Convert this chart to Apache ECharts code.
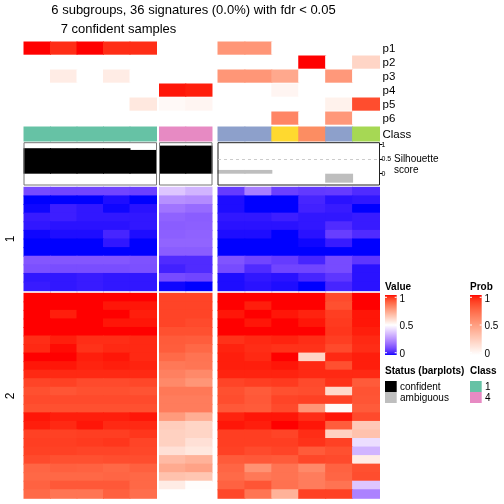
<!DOCTYPE html>
<html><head><meta charset="utf-8">
<script src="https://cdn.jsdelivr.net/npm/echarts@6/dist/echarts.min.js"></script>
<style>html,body{margin:0;padding:0;background:#fff}#c{width:504px;height:504px}</style>
</head><body><div id="c"></div>
<script>
// ---------------- DATA ----------------
const titleLine1 = "6 subgroups, 36 signatures (0.0%) with fdr < 0.05";
const titleLine2 = "7 confident samples";
const groupSizes = [5, 2, 6];
const sampleClass = [1,1,1,1,1, 4,4, 3,3,6,2,3,5];
const silhouette  = [0.88,0.88,0.88,0.88,0.82, 0.97,0.97, 0.13,0.13,0,0,-0.31,0];
const confident   = [1,1,1,1,1, 1,1, 0,0,0,0,0,0];
const probLabels = ["p1","p2","p3","p4","p5","p6"];
const probP1 = [1,0.94,1,0.94,0.94, 0,0, 0.54,0.54,0,0,0,0];
const probP2 = [0,0,0,0,0, 0,0, 0,0,0,1,0,0.22];
const probP3 = [0,0.1,0,0.1,0, 0,0, 0.54,0.54,0.45,0,0.53,0];
const probP4 = [0,0,0,0,0, 0.98,0.97, 0,0,0.05,0,0,0];
const probP5 = [0,0,0,0,0.12, 0.03,0.05, 0,0,0,0,0.07,0.85];
const probP6 = [0,0,0,0,0, 0,0, 0,0,0.62,0,0.53,0];
const rowClusterLabels = ["1","2"];
const cluster1Values = [
 [0.11,0.10,0.10,0.10,0.09, 0.38,0.34, 0.08,0.22,0.09,0.075,0.08,0.05],
 [0,0,0,0.01,0, 0.26,0.25, 0.01,0,0,0.04,0.015,0.02],
 [0.005,0.03,0.02,0.005,0.015, 0.2,0.18, 0.01,0,0,0.035,0.025,0],
 [0.025,0.03,0.02,0.02,0.02, 0.16,0.15, 0.02,0.02,0.03,0.02,0.02,0.025],
 [0.02,0.015,0.015,0.015,0.02, 0.15,0.155, 0.015,0.015,0.015,0.02,0.05,0.025],
 [0.005,0.01,0.01,0.04,0.01, 0.155,0.16, 0.01,0.01,0,0.015,0.085,0.05],
 [0,0,0,0.02,0, 0.165,0.165, 0,0,0,0.005,0.025,0],
 [0,0,0,0,0, 0.15,0.15, 0,0,0,0,0,0],
 [0.135,0.135,0.135,0.135,0.125, 0.05,0.05, 0.13,0.1,0.08,0.04,0.11,0.07],
 [0.12,0.115,0.115,0.115,0.12, 0.035,0.05, 0.11,0.05,0.1,0.1,0.11,0.015],
 [0.02,0.02,0.025,0.02,0.02, 0.11,0.1, 0.01,0.02,0.015,0.04,0.07,0.015],
 [0.025,0.02,0.025,0.02,0.02, 0.005,0, 0.01,0.015,0.01,0,0.04,0.015]
];
const cluster2Values = [
 [1,1,1,1,1, 0.94,0.94, 1,1,1,1,0.93,1],
 [1,1,1,0.99,0.99, 0.94,0.94, 1,0.985,1,1,0.92,1],
 [1,0.985,1,1,0.985, 0.94,0.94, 0.99,1,0.99,0.98,0.95,0.99],
 [1,1,1,0.99,0.99, 0.94,0.93, 1,0.99,1,0.99,0.955,0.99],
 [1,1,1,1,1, 0.92,0.92, 1,1,1,1,0.96,0.985],
 [0.97,0.985,0.97,0.97,0.975, 0.9,0.895, 0.965,0.975,0.98,0.97,0.95,0.975],
 [0.975,0.995,0.965,0.975,0.975, 0.895,0.875, 0.98,0.97,0.965,0.965,0.93,0.97],
 [1,1,0.985,0.99,0.975, 0.87,0.85, 0.985,0.975,1,0.61,0.975,0.985],
 [0.99,0.99,0.98,0.985,0.98, 0.84,0.845, 0.985,0.985,0.99,0.975,0.92,0.985],
 [0.975,0.975,0.975,0.975,0.975, 0.82,0.8, 0.98,0.98,0.98,0.975,0.975,0.975],
 [0.94,0.945,0.93,0.93,0.935, 0.8,0.77, 0.94,0.95,0.955,0.93,0.965,0.9],
 [0.92,0.91,0.92,0.92,0.915, 0.84,0.84, 0.92,0.9,0.92,0.925,0.6,0.915],
 [0.93,0.93,0.93,0.93,0.93, 0.83,0.83, 0.925,0.905,0.94,0.945,0.945,0.91],
 [0.92,0.92,0.92,0.92,0.92, 0.83,0.83, 0.905,0.9,0.93,0.77,0.51,0.9],
 [0.99,0.985,0.985,0.985,0.99, 0.76,0.71, 0.98,0.99,0.99,0.97,0.99,0.93],
 [0.985,0.975,0.99,0.975,0.975, 0.63,0.61, 0.99,0.985,1,0.99,0.895,0.64],
 [0.945,0.945,0.95,0.95,0.96, 0.62,0.61, 0.95,0.95,0.94,0.97,0.62,0.66],
 [0.95,0.95,0.955,0.96,0.94, 0.62,0.58, 0.95,0.95,0.95,0.965,0.945,0.43],
 [0.945,0.945,0.94,0.94,0.935, 0.58,0.56, 0.945,0.93,0.94,0.9,0.92,0.34],
 [0.93,0.92,0.92,0.925,0.925, 0.68,0.7, 0.9,0.905,0.9,0.935,0.93,0.55],
 [0.88,0.89,0.885,0.875,0.89, 0.72,0.74, 0.88,0.78,0.85,0.8,0.885,0.92],
 [0.875,0.875,0.875,0.88,0.875, 0.66,0.65, 0.87,0.84,0.85,0.83,0.88,0.925],
 [0.885,0.905,0.905,0.905,0.875, 0.55,0.505, 0.885,0.91,0.855,0.83,0.85,0.38],
 [0.87,0.845,0.845,0.89,0.86, 0.5,0.5, 0.935,0.845,0.7,0.945,0.945,0.23]
];
const classColors = {1:"#66C2A5",2:"#FC8D62",3:"#8DA0CB",4:"#E78AC3",5:"#A6D854",6:"#FFD92F"};
const legendClasses = ["1","4"];
const statusLabels = ["confident","ambiguous"];
const valueTicks = ["1","0.5","0"];
const probTicks = ["1","0.5","0"];

// ---------------- COLOR (LAB interpolation like colorRamp2) ----------------
function toLin(c){c/=255;return c<=0.04045?c/12.92:Math.pow((c+0.055)/1.055,2.4);}
function toS(l){let c=l<=0.0031308?12.92*l:1.055*Math.pow(l,1/2.4)-0.055;return Math.round(Math.max(0,Math.min(1,c))*255);}
function hex2rgb(h){h=h.replace('#','');return [parseInt(h.slice(0,2),16),parseInt(h.slice(2,4),16),parseInt(h.slice(4,6),16)];}
function rgb2lab(c){const R=toLin(c[0]),G=toLin(c[1]),B=toLin(c[2]);
 const X=(0.4124*R+0.3576*G+0.1805*B)/0.95047,Y=0.2126*R+0.7152*G+0.0722*B,Z=(0.0193*R+0.1192*G+0.9505*B)/1.08883;
 const f=t=>t>0.008856?Math.cbrt(t):7.787*t+16/116;
 return [116*f(Y)-16,500*(f(X)-f(Y)),200*(f(Y)-f(Z))];}
function lab2hex(l){const fy=(l[0]+16)/116,fx=fy+l[1]/500,fz=fy-l[2]/200;
 const fi=t=>t>0.206893?t*t*t:(t-16/116)/7.787;
 const X=fi(fx)*0.95047,Y=fi(fy),Z=fi(fz)*1.08883;
 const R=3.2406*X-1.5372*Y-0.4986*Z,G=-0.9689*X+1.8758*Y+0.0415*Z,B=0.0557*X-0.2040*Y+1.0570*Z;
 return '#'+[toS(R),toS(G),toS(B)].map(v=>v.toString(16).padStart(2,'0')).join('');}
function ramp(stops,n){
 const out=[];const labs=stops.map(s=>[s[0],rgb2lab(hex2rgb(s[1]))]);
 for(let i=0;i<n;i++){const t=i/(n-1);let k=0;while(k<labs.length-2&&t>labs[k+1][0])k++;
  const a=labs[k],b=labs[k+1];const u=(t-a[0])/(b[0]-a[0]);
  out.push(lab2hex([0,1,2].map(j=>a[1][j]+(b[1][j]-a[1][j])*u)));}
 return out;}
const valueColors = ramp([[0,'#0000FF'],[0.5,'#FFFFFF'],[1,'#FF0000']],81);
const probColors = ramp([[0,'#FFFFFF'],[1,'#FF0000']],41);

// ---------------- LAYOUT ----------------
const FONT='"Liberation Sans", Arial, Helvetica, sans-serif';
const colGeom=[{left:24,width:132.5},{left:159.5,width:52.5},{left:218,width:161.5}];
const rowGeom=[{top:41.5,height:84},{top:127,height:14},{top:142.7,height:42.3},{top:187.3,height:103.4},{top:293.3,height:205}];
const probRows=[probP1,probP2,probP3,probP4,probP5,probP6];
const OV=0.5;
function makeCellRender(rowGap){
 return function(params,api){
  const p=api.coord([api.value(0),api.value(1)]);const s=api.size([1,1]);
  return {type:'rect',shape:{x:p[0]-s[0]/2-OV,y:p[1]-s[1]/2-(rowGap?0:OV),width:s[0]+2*OV,height:s[1]+(rowGap?-rowGap:2*OV)},
   style:{fill:api.visual('color'),stroke:null,lineWidth:0}};
 };
}
function barRender(params,api){
 const v=api.value(1);const p0=api.coord([api.value(0),0]);const p1=api.coord([api.value(0),v]);const s=api.size([1,0]);
 if(!v)return null;
 const c=api.value(2)?'#000000':'#BEBEBE';
 return {type:'rect',shape:{x:p0[0]-s[0]/2-OV,y:Math.min(p0[1],p1[1]),width:s[0]+2*OV,height:Math.abs(p1[1]-p0[1])},
  style:{fill:c,stroke:null,lineWidth:0}};
}
const hiddenAxis={show:false,splitLine:{show:false},splitArea:{show:false},axisLine:{show:false},axisTick:{show:false},axisLabel:{show:false}};
const grids=[],xAxes=[],yAxes=[],series=[];
const probSeries=[],classSeries=[],valueSeries=[];
let start=0;
groupSizes.forEach((n,g)=>{
 const cats=Array.from({length:n},(_,i)=>String(start+i));
 rowGeom.forEach((r,s)=>{
  const gi=grids.length;
  const isSil=s===2;
  grids.push({left:colGeom[g].left,top:r.top,width:colGeom[g].width,height:r.height,
   outerBoundsMode:'none',containLabel:false,z:isSil?5:0,
   show:isSil,borderColor:isSil?(g===2?'#222':'#777'):'transparent',borderWidth:1,backgroundColor:'transparent'});
  xAxes.push(Object.assign({type:'category',gridIndex:gi,data:cats,boundaryGap:true},hiddenAxis));
  if(isSil){
   if(g===2){
    yAxes.push({type:'value',gridIndex:gi,min:-0.39,max:1.07,show:true,position:'right',
     splitLine:{show:false},splitArea:{show:false},axisLine:{show:false},
     axisTick:{show:true,length:3,customValues:[0,0.5,1],lineStyle:{color:'#000',width:1}},
     axisLabel:{show:true,customValues:[0,0.5,1],fontSize:7,margin:2,color:'#000',fontFamily:FONT}});
   } else {
    yAxes.push(Object.assign({type:'value',gridIndex:gi,min:-0.39,max:1.07},hiddenAxis));
   }
   const d=[];for(let i=0;i<n;i++){const k=start+i;d.push([i,silhouette[k],confident[k]]);}
   const ser={type:'custom',xAxisIndex:gi,yAxisIndex:gi,data:d,encode:{x:0,y:1},silent:true,renderItem:barRender,z:2};
   if(g===2){ser.markLine={silent:true,symbol:'none',label:{show:false},lineStyle:{color:'#cccccc',type:[3,3],width:1},data:[{yAxis:0.5}]};}
   series.push(ser);
  } else {
   let rows;
   if(s===0)rows=probRows; else if(s===1)rows=[sampleClass]; else if(s===3)rows=cluster1Values; else rows=cluster2Values;
   yAxes.push(Object.assign({type:'category',gridIndex:gi,data:rows.map((_,i)=>String(i)),inverse:true},hiddenAxis));
   const d=[];rows.forEach((row,ri)=>{for(let i=0;i<n;i++)d.push([i,ri,row[start+i]]);});
   series.push({type:'custom',xAxisIndex:gi,yAxisIndex:gi,data:d,silent:true,encode:{x:0,y:1},
    renderItem:makeCellRender(s===0?0.8:0),clip:false});
   const idx=series.length-1;
   if(s===0)probSeries.push(idx); else if(s===1)classSeries.push(idx); else valueSeries.push(idx);
  }
 });
 start+=n;
});

// ---------------- GRAPHICS (titles, labels, legends) ----------------
const G=[];
function txt(x,y,t,size,opt){opt=opt||{};G.push({type:'text',x:x,y:y,rotation:opt.rot||0,silent:true,z:100,
 style:{text:t,fill:'#000',font:(opt.bold?'bold ':'')+size+'px '+FONT,textAlign:opt.align||'left',textVerticalAlign:'middle'}});}
txt(193.5,10.5,titleLine1,13,{align:'center'});
txt(118.5,29.5,titleLine2,13,{align:'center'});
probLabels.forEach((p,i)=>txt(382.5,rowGeom[0].top+14*i+7.5,p,11.5));
txt(382.5,134.5,'Class',11.5);
txt(394,159.3,'Silhouette',10);
txt(394,170,'score',10);
txt(11,239,rowClusterLabels[0],12,{align:'center',rot:Math.PI/2});
txt(11,395.8,rowClusterLabels[1],12,{align:'center',rot:Math.PI/2});
function gradRect(x,y,w,h,cols){const st=cols.map((c,i)=>({offset:i/(cols.length-1),color:c}));
 G.push({type:'rect',silent:true,shape:{x:x,y:y,width:w,height:h},style:{fill:new echarts.graphic.LinearGradient(0,1,0,0,st)}});
 [y+2.3,y+h/2,y+h-2.3].forEach(ty=>{G.push({type:'line',silent:true,shape:{x1:x,y1:ty,x2:x+2,y2:ty},style:{stroke:'#fff',lineWidth:1}});
  G.push({type:'line',silent:true,shape:{x1:x+w-2,y1:ty,x2:x+w,y2:ty},style:{stroke:'#fff',lineWidth:1}});});}
txt(385,287,'Value',10,{bold:true});
gradRect(385,295,11.7,60,valueColors);
[299,326.7,354].forEach((y,i)=>txt(399.5,y,valueTicks[i],10));
txt(470,287,'Prob',10,{bold:true});
gradRect(470,295,11.7,60,probColors);
[299,326.7,354].forEach((y,i)=>txt(484.5,y,probTicks[i],10));
txt(385,371,'Status (barplots)',10,{bold:true});
txt(470,371,'Class',10,{bold:true});
['#000000','#BEBEBE'].forEach((c,i)=>{G.push({type:'rect',silent:true,shape:{x:385,y:381+11*i,width:11.7,height:11},style:{fill:c}});
 txt(400,386.8+11*i,statusLabels[i],10);});
legendClasses.forEach((c,i)=>{G.push({type:'rect',silent:true,shape:{x:470,y:381+11*i,width:11.7,height:11},style:{fill:classColors[c]}});
 txt(485,386.8+11*i,c,10);});

const chart=echarts.init(document.getElementById('c'),null,{renderer:'canvas'});
chart.setOption({
 animation:false,backgroundColor:'#fff',
 grid:grids,xAxis:xAxes,yAxis:yAxes,series:series,
 visualMap:[
  {type:'continuous',show:false,min:0,max:1,dimension:2,seriesIndex:valueSeries,inRange:{color:valueColors}},
  {type:'continuous',show:false,min:0,max:1,dimension:2,seriesIndex:probSeries,inRange:{color:probColors}},
  {type:'piecewise',show:false,dimension:2,seriesIndex:classSeries,
   pieces:Object.keys(classColors).map(k=>({value:+k,color:classColors[k]}))}
 ],
 graphic:G
});
</script></body></html>
